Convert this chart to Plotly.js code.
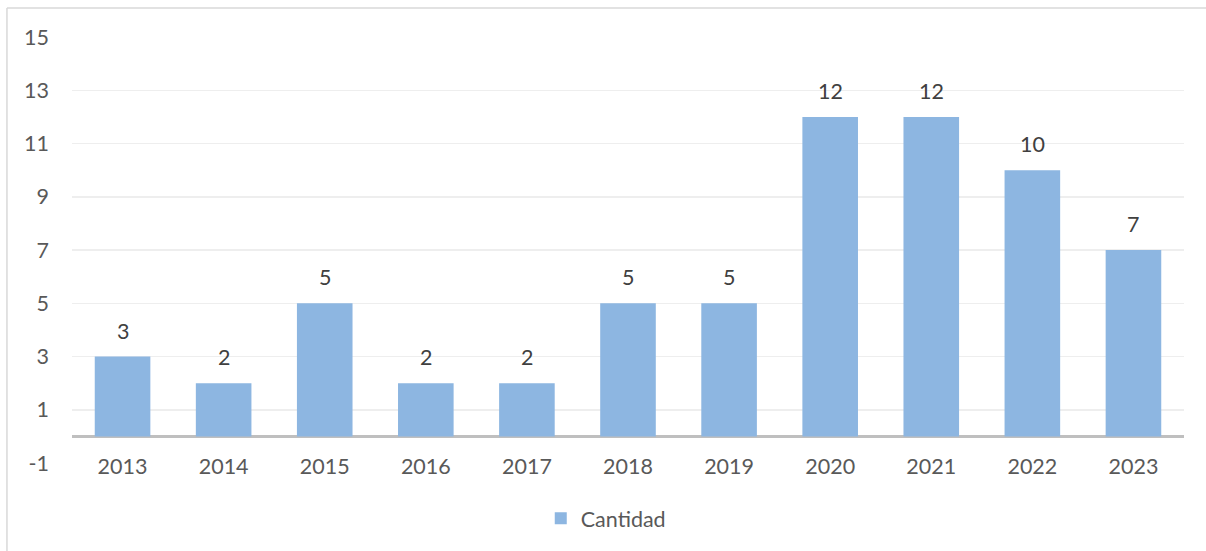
<!DOCTYPE html>
<html>
<head>
<meta charset="utf-8">
<script src="https://cdn.plot.ly/plotly-3.0.1.min.js"></script>
<style>html,body{margin:0;padding:0;background:#fff;}#chart{width:1206px;height:551px;}</style>
</head>
<body>
<div id="chart"></div>
<script>
const years = ["2013","2014","2015","2016","2017","2018","2019","2020","2021","2022","2023"];
const cantidad = [3,2,5,2,2,5,5,12,12,10,7];
const seriesName = "Cantidad";
const yTicks = [-1,1,3,5,7,9,11,13,15];

const FONT = "Lato, 'Open Sans', sans-serif";
const FS = 21.5;

const trace = {
  type: "bar",
  x: years,
  y: cantidad,
  name: seriesName,
  marker: {color: "#8DB6E1"},
  hoverinfo: "x+y"
};

const annotations = years.map((yr, i) => ({
  x: i, y: cantidad[i], xref: "x", yref: "y",
  text: String(cantidad[i]), showarrow: false,
  yanchor: "bottom", yshift: 11,
  font: {family: FONT, size: FS, color: "#404040"}
}));

const layout = {
  width: 1206, height: 551,
  margin: {l: 72, r: 22, t: 37, b: 88},
  paper_bgcolor: "#fff", plot_bgcolor: "#fff",
  showlegend: true,
  bargap: 0.45,
  font: {family: FONT, size: FS, color: "#595959"},
  xaxis: {
    type: "category",
    categoryarray: years,
    range: [-0.5, years.length - 0.5],
    showgrid: false, showline: false, zeroline: false,
    ticks: "", ticklabelstandoff: -12,
    tickfont: {family: FONT, size: FS, color: "#595959"}
  },
  yaxis: {
    range: [-1, 15],
    tickvals: yTicks,
    ticktext: yTicks.map(String),
    showgrid: true, gridcolor: "#EEEEEE", gridwidth: 1.5,
    zeroline: true, zerolinecolor: "#BFBFBF", zerolinewidth: 2.5,
    showline: false, ticks: "", ticklabelstandoff: 22,
    tickfont: {family: FONT, size: FS, color: "#595959"}
  },
  legend: {
    orientation: "h", x: 0.48, xanchor: "center", y: -0.13, yanchor: "middle",
    font: {family: FONT, size: FS, color: "#595959"}
  },
  annotations: annotations,
  shapes: [
    {type: "line", xref: "paper", yref: "paper", x0: -0.0585, x1: 1.03, y0: 1.068, y1: 1.068, line: {color: "#D9D9D9", width: 1.5}},
    {type: "line", xref: "paper", yref: "paper", x0: -0.0585, x1: -0.0585, y0: 1.068, y1: -0.21, line: {color: "#D9D9D9", width: 1.5}}
  ]
};

Plotly.newPlot("chart", [trace], layout, {displayModeBar: false, staticPlot: true});
</script>
</body>
</html>
